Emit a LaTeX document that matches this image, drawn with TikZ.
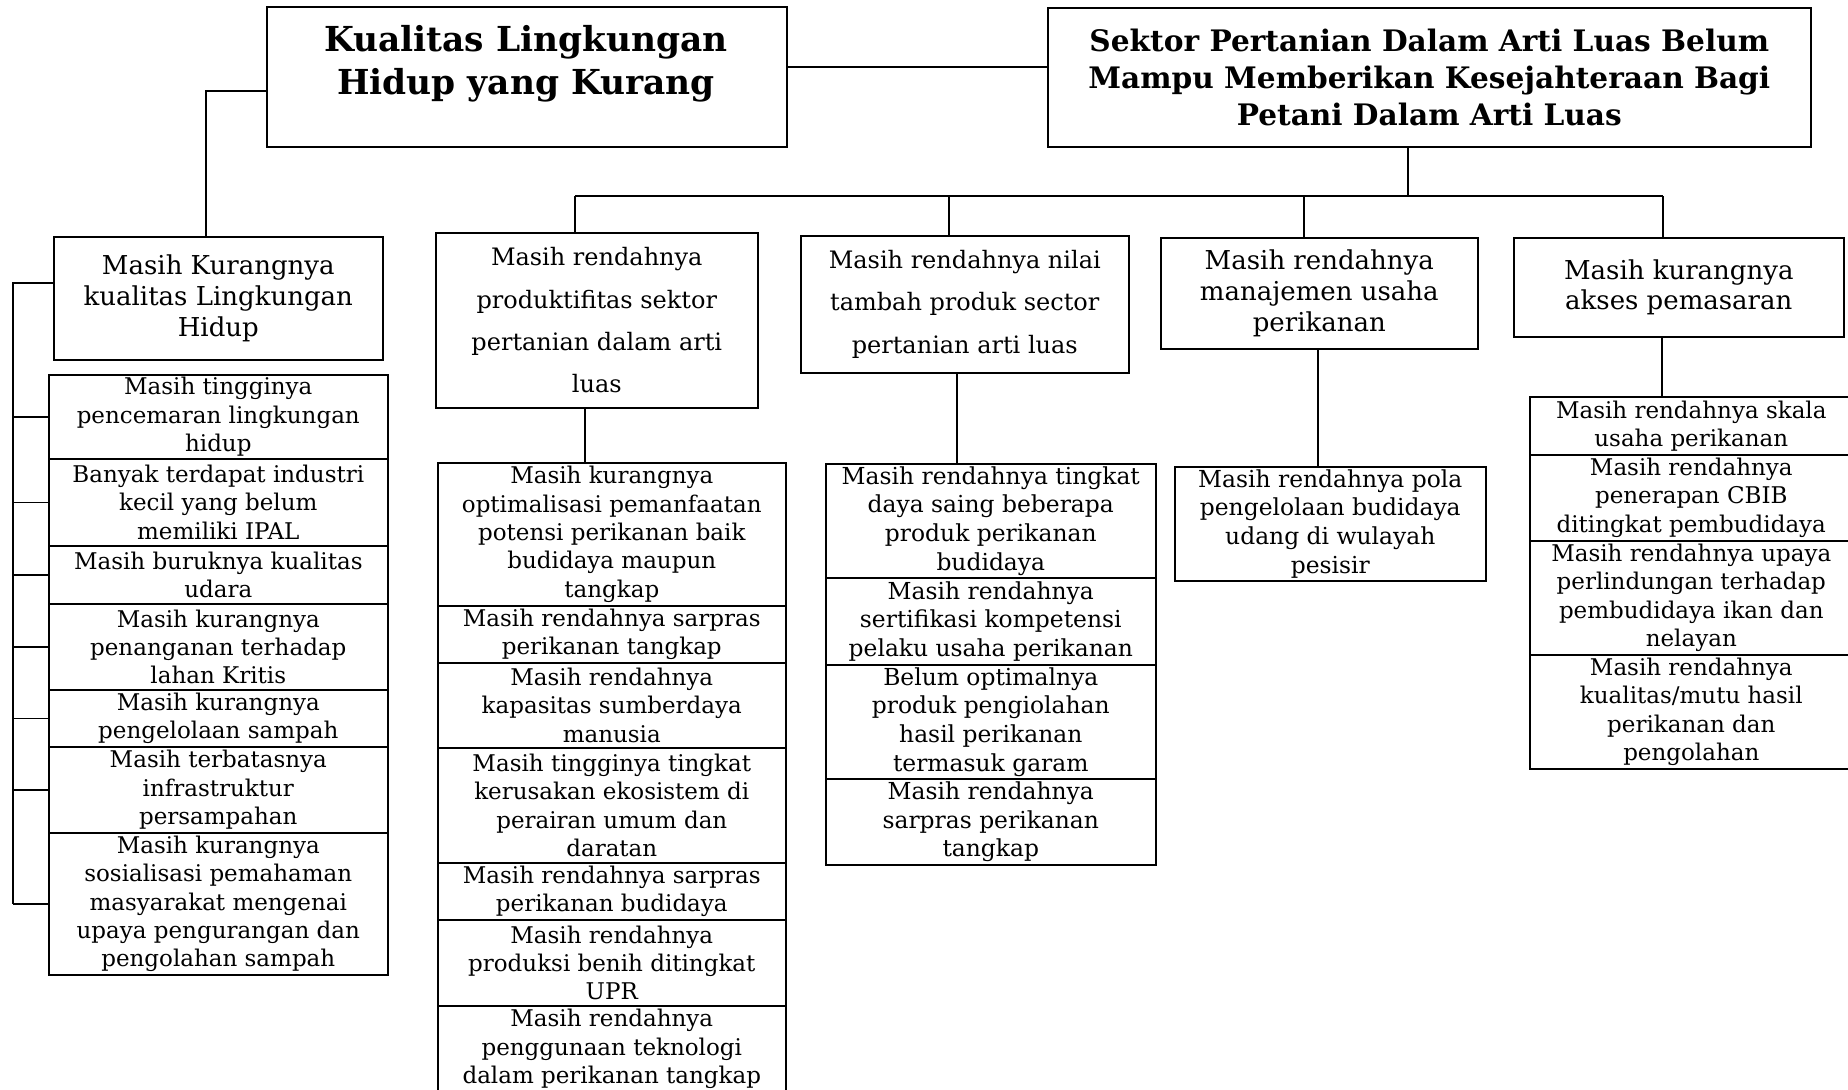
\documentclass[tikz,border=0pt]{standalone}
\usepackage{fontspec}
\setmainfont{DejaVu Serif}
\tikzset{
 bx/.style={draw, line width=0.8pt, align=center, inner sep=0pt},
 wide/.style={font=\fontsize{11.5}{14.15}\selectfont},
 cond/.style={font=\fontsize{11.7}{14.3}\selectfont},
 hdr/.style={font=\fontsize{12}{21.2}\selectfont},
 hdrb/.style={font=\fontsize{13}{15.3}\selectfont},
 ttlK/.style={font=\bfseries\fontsize{17.2}{21.6}\selectfont},
 ttlS/.style={font=\bfseries\fontsize{14.8}{18.5}\selectfont},
 ln/.style={line width=0.8pt}
}
\newcommand\mybox[7]{\node[bx,#6,anchor=north west,minimum width={(#4-#2)*0.5pt},minimum height={(#5-#3)*0.5pt}] (#1) at (#2,#3) {#7};}
\begin{document}
\begin{tikzpicture}[x=0.5pt,y=-0.5pt]
\useasboundingbox (0,0) rectangle (1848,1089);
% top boxes
\mybox{K}{266}{6}{786}{146}{}{}
\node[ttlK, align=center, inner sep=0pt] (Kt) at (526,64) {Kualitas Lingkungan\\Hidup yang Kurang};
\mybox{S}{1047}{7}{1810}{146}{ttlS}{Sektor Pertanian Dalam Arti Luas Belum\\Mampu Memberikan Kesejahteraan Bagi\\Petani Dalam Arti Luas}
% left branch
\mybox{MK}{53}{236}{382}{359}{hdrb}{Masih Kurangnya\\kualitas Lingkungan\\Hidup}
\mybox{L1}{48}{374}{387}{458}{wide}{Masih tingginya\\pencemaran lingkungan\\hidup}
\mybox{L2}{48}{458}{387}{545}{wide}{Banyak terdapat industri\\kecil yang belum\\memiliki IPAL}
\mybox{L3}{48}{545}{387}{603}{wide}{Masih buruknya kualitas\\udara}
\mybox{L4}{48}{603}{387}{689}{wide}{Masih kurangnya\\penanganan terhadap\\lahan Kritis}
\mybox{L5}{48}{689}{387}{746}{wide}{Masih kurangnya\\pengelolaan sampah}
\mybox{L6}{48}{746}{387}{832}{wide}{Masih terbatasnya\\infrastruktur\\persampahan}
\mybox{L7}{48}{832}{387}{974}{wide}{Masih kurangnya\\sosialisasi pemahaman\\masyarakat mengenai\\upaya pengurangan dan\\pengolahan sampah}
% column P
\mybox{P}{435}{232}{757}{407}{hdr}{Masih rendahnya\\produktifitas sektor\\pertanian dalam arti\\luas}
\mybox{P1}{437}{462}{785}{605}{wide}{Masih kurangnya\\optimalisasi pemanfaatan\\potensi perikanan baik\\budidaya maupun\\tangkap}
\mybox{P2}{437}{605}{785}{662}{wide}{Masih rendahnya sarpras\\perikanan tangkap}
\mybox{P3}{437}{662}{785}{747}{wide}{Masih rendahnya\\kapasitas sumberdaya\\manusia}
\mybox{P4}{437}{747}{785}{862}{wide}{Masih tingginya tingkat\\kerusakan ekosistem di\\perairan umum dan\\daratan}
\mybox{P5}{437}{862}{785}{919}{wide}{Masih rendahnya sarpras\\perikanan budidaya}
\mybox{P6}{437}{919}{785}{1005}{wide}{Masih rendahnya\\produksi benih ditingkat\\UPR}
\mybox{P7}{437}{1005}{785}{1091}{wide}{Masih rendahnya\\penggunaan teknologi\\dalam perikanan tangkap}
% column N
\mybox{N}{800}{235}{1128}{372}{hdr}{Masih rendahnya nilai\\tambah produk sector\\pertanian arti luas}
\mybox{N1}{825}{463}{1155}{577}{cond}{Masih rendahnya tingkat\\daya saing beberapa\\produk perikanan\\budidaya}
\mybox{N2}{825}{577}{1155}{664}{cond}{Masih rendahnya\\sertifikasi kompetensi\\pelaku usaha perikanan}
\mybox{N3}{825}{664}{1155}{778}{cond}{Belum optimalnya\\produk pengiolahan\\hasil perikanan\\termasuk garam}
\mybox{N4}{825}{778}{1155}{864}{cond}{Masih rendahnya\\sarpras perikanan\\tangkap}
% column M
\mybox{M}{1160}{237}{1477}{348}{hdrb}{Masih rendahnya\\manajemen usaha\\perikanan}
\mybox{M1}{1174}{466}{1485}{580}{cond}{Masih rendahnya pola\\pengelolaan budidaya\\udang di wulayah\\pesisir}
% column A
\mybox{A}{1513}{237}{1843}{336}{hdrb}{Masih kurangnya\\akses pemasaran}
\mybox{A1}{1529}{396}{1852}{454}{wide}{Masih rendahnya skala\\usaha perikanan}
\mybox{A2}{1529}{454}{1852}{540}{wide}{Masih rendahnya\\penerapan CBIB\\ditingkat pembudidaya}
\mybox{A3}{1529}{540}{1852}{654}{wide}{Masih rendahnya upaya\\perlindungan terhadap\\pembudidaya ikan dan\\nelayan}
\mybox{A4}{1529}{654}{1852}{768}{wide}{Masih rendahnya\\kualitas/mutu hasil\\perikanan dan\\pengolahan}
% connectors
\coordinate (ksy) at (0,67);
\draw[ln] (K.east |- ksy) -- (S.west |- ksy);
\coordinate (kb) at (206,91);
\draw[ln] (K.west |- kb) -- (kb) -- (kb |- MK.north);
\coordinate (lb) at (13,283);
\draw[ln] (MK.west |- lb) -- (lb) -- (lb |- L7.west);
\foreach \i in {1,...,7} \draw[ln] (lb |- L\i.west) -- (L\i.west);
\coordinate (sb) at (1408,196);
\coordinate (bl) at (575,196);
\coordinate (bn) at (949,196);
\coordinate (bm) at (1304,196);
\coordinate (br) at (1663,196);
\draw[ln] (sb |- S.south) -- (sb);
\draw[ln] (bl) -- (br);
\draw[ln] (bl) -- (bl |- P.north);
\draw[ln] (bn) -- (bn |- N.north);
\draw[ln] (bm) -- (bm |- M.north);
\draw[ln] (br) -- (br |- A.north);
\coordinate (pd) at (585,0);
\coordinate (nd) at (957,0);
\coordinate (md) at (1318,0);
\coordinate (ad) at (1662,0);
\draw[ln] (pd |- P.south) -- (pd |- P1.north);
\draw[ln] (nd |- N.south) -- (nd |- N1.north);
\draw[ln] (md |- M.south) -- (md |- M1.north);
\draw[ln] (ad |- A.south) -- (ad |- A1.north);
\end{tikzpicture}
\end{document}
